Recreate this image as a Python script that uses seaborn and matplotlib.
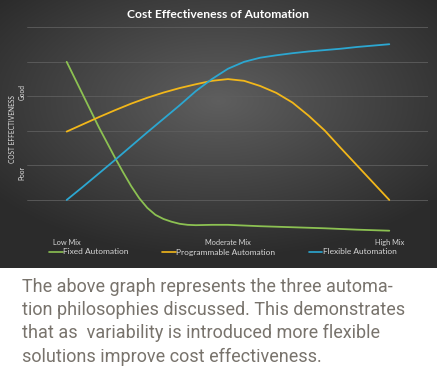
"""
Cost effectiveness of automation chart with caption.
"""

import matplotlib

matplotlib.use("Agg")

import matplotlib.pyplot as plt
import numpy as np
import pandas as pd
import seaborn as sns

# values (x runs from Low Mix = 0 to High Mix = 10)
fixed_x = [0, 0.5, 1, 1.25, 1.5, 1.75, 2, 2.25, 2.5, 2.75, 3, 3.25, 3.5, 3.75, 4,
           4.5, 5, 5.5, 6, 7, 8, 9, 10]
fixed_auto = [5.0, 4.05, 3.10, 2.66, 2.22, 1.80, 1.40, 1.05, 0.77, 0.57, 0.45, 0.37,
              0.31, 0.28, 0.27, 0.28, 0.28, 0.26, 0.24, 0.21, 0.18, 0.14, 0.11]

mix_x = [0, 0.5, 1, 1.5, 2, 2.5, 3, 3.5, 4, 4.5, 5, 5.5, 6, 6.5, 7, 7.5, 8, 8.5, 9, 9.5, 10]
programmable_auto = [2.98, 3.19, 3.40, 3.60, 3.79, 3.96, 4.11, 4.24, 4.35, 4.45, 4.50,
                     4.45, 4.30, 4.10, 3.82, 3.44, 3.01, 2.50, 2.00, 1.50, 1.0]
flexible_auto = [1.0, 1.38, 1.77, 2.16, 2.56, 2.96, 3.35, 3.74, 4.15, 4.50, 4.80,
                 5.00, 5.12, 5.19, 5.25, 5.30, 5.34, 5.38, 5.43, 5.47, 5.51]

series_names = ["Fixed Automation", "Programmable Automation", "Flexible Automation"]
series_colors = ["#8cc152", "#f2b71a", "#2ca7d1"]
tick_positions = [0, 5, 10]
tick_labels = ["Low Mix", "Moderate Mix", "High Mix"]

title = "Cost Effectiveness of Automation"
caption_lines = [
    "The above graph represents the three automa-",
    "tion philosophies discussed. This demonstrates",
    "that as  variability is introduced more flexible",
    "solutions improve cost effectiveness.",
]

df = pd.DataFrame({
    "x": fixed_x + mix_x + mix_x,
    "value": fixed_auto + programmable_auto + flexible_auto,
    "series": [series_names[0]] * len(fixed_x) + [series_names[1]] * len(mix_x)
              + [series_names[2]] * len(mix_x),
})

sns.set_theme(style="dark")
plt.rcParams["font.family"] = ["Lato", "DejaVu Sans"]

W, H = 437, 368
fig = plt.figure(figsize=(W / 100, H / 100), dpi=100)
fig.patch.set_facecolor("white")

# dark radial-gradient panel behind the chart
panel_h = 268
bg_ax = fig.add_axes([0, 1 - panel_h / H, 1, panel_h / H])
gx, gy = np.meshgrid(np.linspace(-1, 1, 400), np.linspace(-1, 1, 250))
dist = np.sqrt(((gx - 0.0) / 1.1) ** 2 + ((gy + 0.25) / 1.0) ** 2)
shade = np.clip(0.37 - 0.17 * dist, 0.17, 0.37)
bg_ax.imshow(np.dstack([shade] * 3), aspect="auto", extent=[0, 1, 0, 1], origin="upper")
bg_ax.set_axis_off()

ax = fig.add_axes([27 / W, (H - 234.5) / H, (428 - 27) / W, (234.5 - 27.3) / H])
ax.patch.set_alpha(0)

sns.lineplot(
    data=df, x="x", y="value", hue="series", palette=series_colors,
    hue_order=series_names, linewidth=1.3, ax=ax, legend=False, sort=True,
    solid_joinstyle="round", solid_capstyle="round",
)

ax.set_xlim(-1.23, 11.2)
ax.set_ylim(0, 6)
ax.set_yticks(range(7))
ax.set_yticklabels([])
ax.set_xticks(tick_positions)
ax.set_xticklabels(tick_labels, fontsize=5.3, color="#d6d6d6")
ax.tick_params(axis="both", length=0, pad=3)
ax.grid(axis="y", color="#5e5e5e", linewidth=0.6)
ax.grid(axis="x", visible=False)
ax.set_xlabel("")
ax.set_ylabel("")
for spine in ax.spines.values():
    spine.set_visible(False)

fig.text(218 / W, 1 - 14 / H, title, ha="center", va="center",
         fontsize=8.7, fontweight="bold", color="white")

fig.text(13 / W, 1 - 129 / H, "COST EFFECTIVENESS", rotation=90, ha="center",
         va="center", fontsize=4.8, color="#e0e0e0")
fig.text(22 / W, 1 - 92 / H, "Good", rotation=90, ha="center", va="center",
         fontsize=4.8, color="#e0e0e0")
fig.text(22 / W, 1 - 173 / H, "Poor", rotation=90, ha="center", va="center",
         fontsize=4.8, color="#e0e0e0")

handles = [plt.Line2D([], [], color=c, linewidth=1.2) for c in series_colors]
fig.legend(handles, series_names, loc="center", bbox_to_anchor=(223 / W, 1 - 252 / H),
           ncol=3, frameon=False, fontsize=6, labelcolor="#d6d6d6",
           handlelength=1.6, handletextpad=0.1, columnspacing=4.0)

for i, line in enumerate(caption_lines):
    fig.text(22 / W, 1 - (291.5 + 23.4 * i) / H, line, ha="left", va="baseline",
             fontsize=13, color="#78736c", family=["Roboto", "DejaVu Sans"])

fig.savefig("out.png", dpi=100)
